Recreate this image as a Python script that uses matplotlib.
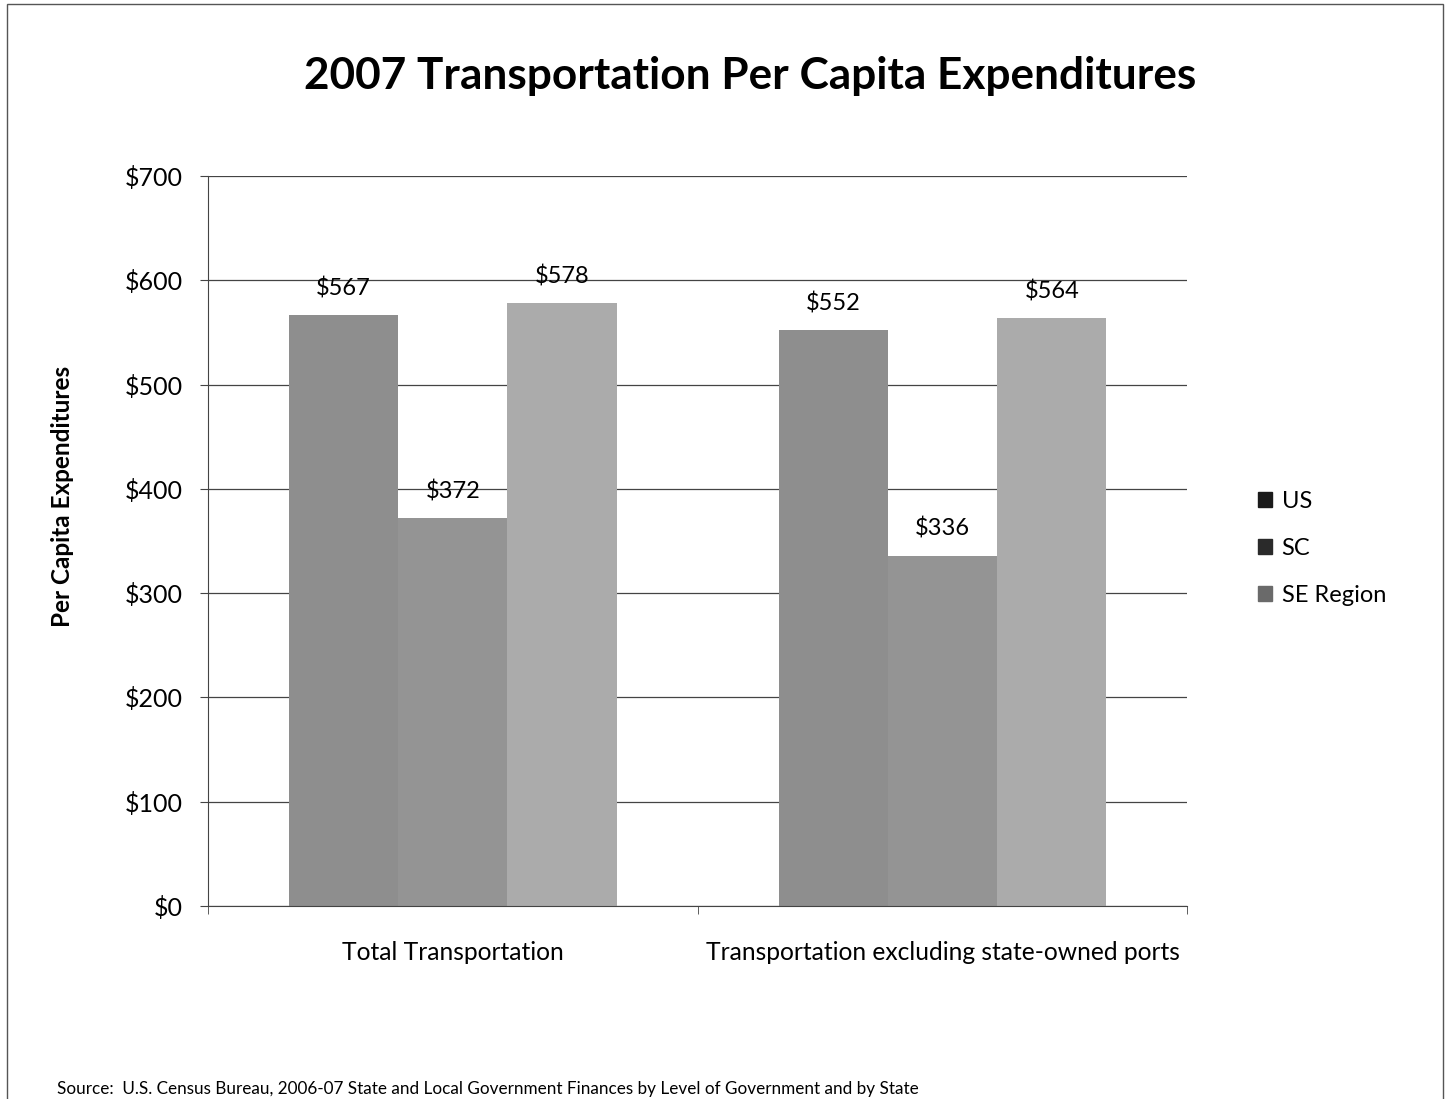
import matplotlib.pyplot as plt
import numpy as np
from matplotlib.patches import Rectangle

plt.rcParams['font.family'] = ['Lato', 'DejaVu Sans']

categories = ["Total Transportation", "Transportation excluding state-owned ports"]
series = ["US", "SC", "SE Region"]
us = [567, 552]
sc = [372, 336]
se = [578, 564]
colors = ["#8e8e8e", "#949494", "#ababab"]
legend_colors = ["#1a1a1a", "#2a2a2a", "#6a6a6a"]
yticks = [0, 100, 200, 300, 400, 500, 600, 700]


def main():
    fig = plt.figure(figsize=(14.5, 10.99), dpi=100)
    ax = fig.add_axes([0.1434, 0.1756, 0.6755, 0.6643])

    x = np.arange(len(categories))
    w = 0.223
    values = [us, sc, se]
    for i, vals in enumerate(values):
        bars = ax.bar(x + (i - 1) * w, vals, width=w, color=colors[i], zorder=2)
        for b, v in zip(bars, vals):
            ax.text(b.get_x() + b.get_width() / 2, v + 15, f"${v}",
                    ha="center", va="bottom", fontsize=17, zorder=3)

    ax.set_xlim(-0.5, 1.5)
    ax.set_ylim(0, 700)
    ax.set_yticks(yticks)
    ax.set_yticklabels([f"${t}" for t in yticks], fontsize=18)
    ax.yaxis.grid(True, color="#444444", linewidth=0.9, zorder=1)
    ax.set_xticks(x)
    ax.set_xticklabels(categories, fontsize=17.7)
    ax.set_xticks([-0.5, 0.5, 1.5], minor=True)
    ax.tick_params(axis="x", which="major", length=0, pad=25)
    ax.tick_params(axis="x", which="minor", length=6, color="#444444")
    ax.tick_params(axis="y", length=6, color="#444444", pad=12)
    for s in ["top", "right"]:
        ax.spines[s].set_visible(False)
    ax.spines["left"].set_color("#444444")
    ax.spines["bottom"].set_color("#444444")

    fig.text(0.043, 0.548, "Per Capita Expenditures", rotation=90,
             ha="center", va="center", fontsize=17.5, fontweight="bold")

    handles = [Rectangle((0, 0), 1, 1, color=c) for c in legend_colors]
    fig.legend(handles, series, loc="center left", bbox_to_anchor=(0.853, 0.501),
               frameon=False, fontsize=17, handlelength=0.6, handleheight=0.6,
               handletextpad=0.4, labelspacing=1.1)

    fig.text(0.517, 0.931, "2007 Transportation Per Capita Expenditures",
             ha="center", va="center", fontsize=31.8, fontweight="bold")
    fig.text(0.039, 0.009, "Source:  U.S. Census Bureau, 2006-07 State and Local Government Finances by Level of Government and by State",
             ha="left", va="center", fontsize=12.3)

    fig.patches.append(Rectangle((0.005, -0.01), 0.99, 1.006, transform=fig.transFigure,
                                 fill=False, edgecolor="#555555", linewidth=1))

    plt.savefig("out.png", dpi=100)


if __name__ == "__main__":
    main()
